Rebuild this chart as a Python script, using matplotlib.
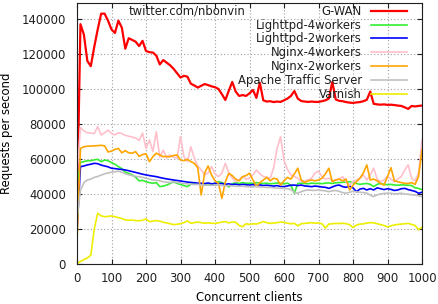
import numpy as np
import matplotlib
matplotlib.use("Agg")
import matplotlib.pyplot as plt

# concurrent clients, one sample every 10
clients = list(range(0, 1001, 10))

gwan = [30000, 137000, 131000, 116000, 113000, 124000, 134000, 143000, 143000, 139000,
        134000, 132000, 139000, 135000, 123000, 129000, 128000, 127000, 124500, 127500,
        121700, 121000, 120800, 119000, 114000, 116500, 115000, 113500, 111500, 109000,
        106500, 107500, 107000, 103000, 102000, 100800, 101800, 102800, 102200, 101500,
        101000, 100000, 97000, 93700, 99000, 104000, 98500, 96000, 96500, 96000,
        97500, 99400, 94900, 103500, 93500, 92800, 93000, 92500, 92800, 92600,
        93500, 94500, 96000, 98800, 94500, 93100, 92800, 92600, 92800, 92600,
        92600, 93000, 93500, 94500, 104000, 94000, 93200, 93000, 92500, 92200,
        92000, 92300, 92500, 93000, 93800, 98500, 91500, 91200, 91000, 91200,
        90900, 91000, 90800, 90500, 90300, 89500, 88600, 90300, 90000, 90300,
        90500]

lighttpd4 = [45000, 58000, 58500, 59000, 59000, 59500, 59800, 58500, 59400, 59000,
             57900, 57000, 55600, 54500, 52500, 51800, 50900, 49500, 47500, 47800,
             47000, 46500, 46100, 46500, 44200, 44500, 45100, 46000, 47000, 46000,
             45500, 44800, 44200, 45500, 46500, 45800, 45500, 46000, 45000, 45500,
             46000, 47000, 46500, 45500, 44000, 45800, 46500, 46000, 46500, 46100,
             46200, 46000, 46500, 46200, 46000, 46200, 45800, 46000, 46300, 46000,
             45800, 46200, 45000, 40400, 46000, 46200, 46000, 45800, 46200, 46000,
             46100, 45900, 46200, 46300, 46000, 46400, 46500, 46700, 46800, 47000,
             46500, 46000, 45500, 45800, 46000, 45500, 44200, 45500, 46000, 45500,
             45300, 45500, 45100, 45000, 45200, 45100, 45000, 44800, 43500, 43200,
             42500]

lighttpd2 = [19000, 55600, 56000, 56600, 57000, 57500, 57300, 56500, 56000, 55500,
             54700, 54500, 54200, 54000, 53700, 53300, 52800, 52300, 51800, 51300,
             50900, 50500, 50200, 49900, 49400, 49000, 48600, 48300, 48000, 47700,
             47400, 47100, 46800, 46600, 46400, 46200, 46100, 45900, 46300, 45800,
             46100, 45900, 46000, 45500, 45800, 45400, 45600, 45200, 45500, 45300,
             45100, 45400, 44900, 45200, 44800, 45000, 44700, 44500, 44800, 44300,
             44200, 44600, 45000, 45100, 44800, 45100, 44600, 44400, 44200, 44500,
             44300, 44000, 43800, 43200, 44000, 44800, 45100, 44200, 43800, 44500,
             43500, 41300, 42800, 43200, 42300, 43000, 42300, 43500, 43000, 42500,
             43000, 42600, 42000, 42300, 43000, 43200, 42500, 42000, 41500, 40400,
             41000]

nginx4 = [50000, 78000, 76000, 75000, 74800, 74500, 78500, 73700, 75000, 76500,
          74500, 73700, 75000, 74500, 73500, 73000, 72500, 72000, 70500, 74800,
          66000, 70900, 64200, 75600, 61000, 65000, 60500, 62300, 61000, 60400,
          72700, 61300, 58500, 67000, 60400, 56000, 53700, 50900, 52000, 55600,
          51500, 49900, 52000, 57500, 52000, 49000, 47000, 48000, 49900, 48500,
          49000, 51000, 53700, 51500, 50000, 49500, 49000, 55000, 66000, 72700,
          59400, 54000, 51000, 50000, 49000, 47000, 47500, 48000, 49000, 52000,
          53000, 50000, 48500, 49000, 47500, 48000, 48500, 49900, 47000, 45000,
          47000, 48000, 49000, 50900, 48000, 50900, 54700, 48500, 47000, 48000,
          50000, 48500, 47000, 48500, 50000, 53700, 56600, 49000, 47500, 52000,
          71000]

nginx2 = [13000, 66000, 67000, 67300, 67400, 67500, 67600, 67800, 67500, 64000,
          64500, 65500, 66000, 63500, 64800, 63500, 63300, 64200, 61500, 62500,
          63000, 58500, 61300, 63300, 62300, 61300, 61500, 61300, 62000, 62300,
          59400, 59000, 59800, 58500, 57500, 55000, 39400, 52000, 56000, 50900,
          47500, 46000, 37500, 47000, 51800, 50500, 48500, 47500, 49900, 50500,
          51800, 48000, 44200, 46500, 48000, 49500, 47500, 49000, 48500, 45100,
          47500, 49500, 48500, 51500, 54700, 48000, 46500, 47500, 48000, 47500,
          48000, 49000, 51500, 54700, 47000, 48000, 48500, 47500, 48500, 42300,
          45000, 47000, 49000, 52000, 56600, 48000, 48500, 47500, 46000, 45100,
          50000, 55000, 47500, 47000, 46500, 46100, 46000, 46500, 45500, 50000,
          65000]

ats = [26000, 42000, 46500, 48000, 48500, 49500, 50000, 50800, 51500, 52000,
       52500, 52700, 53000, 52500, 51500, 51000, 50500, 50000, 49900, 49500,
       49000, 48500, 48000, 47800, 47500, 47000, 46800, 46500, 47000, 46600,
       46200, 46000, 45800, 45600, 45400, 45500, 45200, 45000, 45100, 44900,
       45000, 45100, 44900, 44700, 44800, 44600, 44500, 44300, 44500, 44200,
       44200, 44000, 44300, 43900, 44000, 43700, 43800, 43500, 43400, 43200,
       43200, 43000, 42500, 41000, 40400, 41300, 42000, 42300, 42100, 42000,
       42300, 42000, 41800, 41300, 41800, 42000, 41500, 40800, 40400, 41000,
       41500, 41200, 41000, 40800, 40500, 39400, 38500, 39500, 40000, 40300,
       40500, 40400, 40000, 40200, 40400, 40000, 39800, 39600, 39400, 39000,
       38500]

varnish = [0, 1500, 2500, 3500, 5000, 20000, 29000, 27500, 27000, 27200,
           27500, 27000, 26500, 26000, 25200, 25000, 25100, 24800, 24700, 25000,
           25800, 24200, 24500, 24800, 24500, 23800, 23500, 23000, 22500, 22700,
           23000, 23600, 24600, 23300, 23600, 24000, 23600, 23300, 23500, 23300,
           23200, 23500, 24000, 24200, 23500, 24000, 23800, 22000, 21300, 23000,
           22600, 23000, 22800, 23500, 24200, 23600, 23200, 23400, 23600, 24000,
           23800, 23300, 23000, 23200, 21800, 23000, 23200, 23400, 23600, 23300,
           23400, 23000, 20500, 22800, 23000, 23200, 23100, 23300, 23000, 22500,
           20800, 22200, 22800, 22900, 23400, 23600, 23500, 23000, 22500, 22000,
           21200, 21800, 22300, 22600, 22800, 23000, 23200, 22600, 22000, 19600,
           21000]

series = [
    ("G-WAN", gwan, "#ff0000", 1.6),
    ("Lighttpd-4workers", lighttpd4, "#33ee33", 1.2),
    ("Lighttpd-2workers", lighttpd2, "#0000ff", 1.2),
    ("Nginx-4workers", nginx4, "#ffc0cb", 1.2),
    ("Nginx-2workers", nginx2, "#ffa500", 1.2),
    ("Apache Traffic Server", ats, "#c0c0c0", 1.2),
    ("Varnish", varnish, "#eeee00", 1.2),
]

plt.rcParams["font.family"] = "DejaVu Sans"
plt.rcParams["font.size"] = 8.4

fig = plt.figure(figsize=(4.38, 3.04), dpi=100)
ax = fig.add_axes([77 / 438, 40 / 304, 345 / 438, 261 / 304])

for name, vals, color, lw in series:
    ax.plot(clients, vals, color=color, lw=lw, label=name)

ax.set_xlim(0, 1000)
ax.set_ylim(0, 149100)
ax.set_xticks(range(0, 1001, 100))
ax.set_yticks(range(0, 140001, 20000))
ax.tick_params(direction="in", length=3.6, width=0.8, top=True, right=True,
               colors="#202020", labelcolor="#202020")
ax.tick_params(axis="x", pad=6.0)
ax.tick_params(axis="y", pad=8.0)
ax.grid(True, color="#a0a0a0", linestyle=(0, (1, 2)), linewidth=0.8)
for sp in ax.spines.values():
    sp.set_color("#202020")
    sp.set_linewidth(0.8)

ax.set_xlabel("Concurrent clients")
ax.set_ylabel("Requests per second")
ax.xaxis.set_label_coords(0.5, -0.105)
ax.yaxis.set_label_coords(-0.186, 0.5)

ax.text(0.319, 0.968, "twitter.com/nbonvin", transform=ax.transAxes,
        ha="center", va="center", color="#202020")

leg = ax.legend(loc="upper right", bbox_to_anchor=(0.9565, 0.993),
                markerfirst=False, frameon=False,
                handlelength=3.08, handletextpad=0.77, labelspacing=0.07,
                borderaxespad=0, borderpad=0)
for t in leg.get_texts():
    t.set_color("#202020")

fig.savefig("out.png", dpi=100)
